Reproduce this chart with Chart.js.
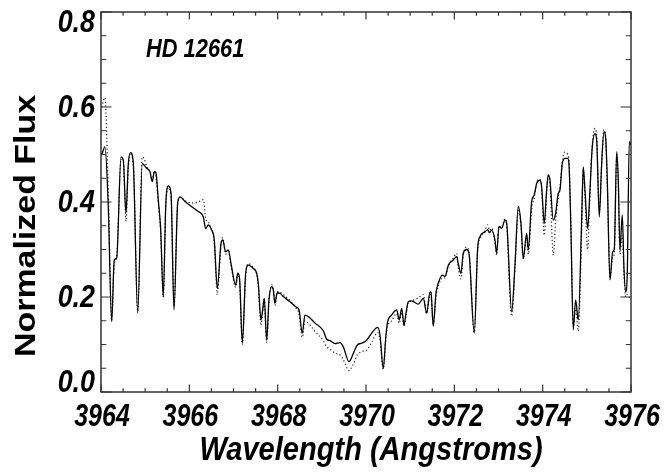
<!DOCTYPE html>
<html>
<head>
<meta charset="utf-8">
<script src="https://cdn.jsdelivr.net/npm/chart.js@4.4.1/dist/chart.umd.min.js"></script>
<style>
  html, body { margin: 0; padding: 0; background: #fff; }
  #wrap { width: 664px; height: 474px; }
</style>
</head>
<body>
<div id="wrap"><canvas id="spec" width="664" height="474"></canvas></div>
<script>
// HD 12661 spectrum around Ca II H (3964-3976 A)

const wavelength = [
  3964.016, 3964.090, 3964.165, 3964.242, 3964.300, 3964.355, 3964.453, 3964.505, 3964.566, 3964.618,
  3964.672, 3964.731, 3964.831, 3964.935, 3964.974, 3965.035, 3965.109, 3965.161, 3965.207, 3965.245,
  3965.297, 3965.352, 3965.410, 3965.465, 3965.524, 3965.585, 3965.653, 3965.736, 3965.789, 3965.900,
  3966.053, 3966.203, 3966.316, 3966.370, 3966.429, 3966.506, 3966.565, 3966.633, 3966.717, 3966.755,
  3966.823, 3966.882, 3966.943, 3967.050, 3967.095, 3967.136, 3967.200, 3967.276, 3967.335, 3967.448,
  3967.525, 3967.561, 3967.622, 3967.661, 3967.697, 3967.751, 3967.803, 3967.865, 3967.900, 3967.939,
  3967.991, 3968.052, 3968.127, 3968.279, 3968.430, 3968.483, 3968.557, 3968.618, 3968.693, 3968.845,
  3969.033, 3969.110, 3969.185, 3969.298, 3969.411, 3969.486, 3969.615, 3969.712, 3969.803, 3969.909,
  3970.015, 3970.129, 3970.264, 3970.317, 3970.391, 3970.452, 3970.491, 3970.581, 3970.695, 3970.753,
  3970.808, 3970.860, 3970.905, 3970.957, 3971.034, 3971.183, 3971.297, 3971.374, 3971.448, 3971.471,
  3971.523, 3971.584, 3971.636, 3971.727, 3971.788, 3971.863, 3971.976, 3972.053, 3972.089, 3972.150,
  3972.202, 3972.279, 3972.331, 3972.451, 3972.528, 3972.580, 3972.694, 3972.755, 3972.795, 3972.845,
  3972.920, 3972.958, 3973.011, 3973.072, 3973.146, 3973.185, 3973.298, 3973.373, 3973.448, 3973.509,
  3973.561, 3973.638, 3973.674, 3973.751, 3973.810, 3973.864, 3973.939, 3973.977, 3974.036, 3974.090,
  3974.127, 3974.165, 3974.240, 3974.294, 3974.353, 3974.391, 3974.444, 3974.505, 3974.566, 3974.595,
  3974.640, 3974.693, 3974.747, 3974.806, 3974.883, 3974.919, 3974.958, 3975.018, 3975.071, 3975.123,
  3975.184, 3975.223, 3975.282, 3975.336, 3975.388, 3975.427, 3975.463, 3975.524, 3975.585, 3975.621,
  3975.676, 3975.712, 3975.750, 3975.803, 3975.841, 3975.880, 3975.916, 3975.961, 3976.000
];

// solid line
const modelFlux = [
  0.499, 0.516, 0.390, 0.148, 0.278, 0.282, 0.495, 0.488, 0.376, 0.480,
  0.504, 0.482, 0.166, 0.481, 0.478, 0.471, 0.464, 0.443, 0.464, 0.461,
  0.404, 0.341, 0.200, 0.390, 0.434, 0.419, 0.173, 0.398, 0.411, 0.401,
  0.390, 0.380, 0.369, 0.344, 0.352, 0.341, 0.320, 0.218, 0.313, 0.320,
  0.295, 0.299, 0.271, 0.225, 0.250, 0.240, 0.103, 0.250, 0.267, 0.260,
  0.250, 0.229, 0.152, 0.173, 0.197, 0.109, 0.194, 0.222, 0.215, 0.187,
  0.209, 0.208, 0.201, 0.190, 0.178, 0.173, 0.124, 0.162, 0.159, 0.145,
  0.129, 0.111, 0.108, 0.102, 0.104, 0.095, 0.064, 0.081, 0.099, 0.103,
  0.109, 0.124, 0.136, 0.120, 0.050, 0.120, 0.148, 0.162, 0.173, 0.152,
  0.176, 0.141, 0.165, 0.190, 0.192, 0.185, 0.197, 0.166, 0.211, 0.210,
  0.139, 0.208, 0.229, 0.246, 0.243, 0.267, 0.278, 0.285, 0.270, 0.250,
  0.292, 0.300, 0.292, 0.124, 0.302, 0.327, 0.337, 0.342, 0.335, 0.341,
  0.320, 0.292, 0.348, 0.345, 0.362, 0.355, 0.169, 0.267, 0.390, 0.355,
  0.281, 0.334, 0.299, 0.401, 0.415, 0.439, 0.446, 0.432, 0.355, 0.425,
  0.457, 0.446, 0.362, 0.376, 0.418, 0.425, 0.481, 0.492, 0.492, 0.481,
  0.341, 0.131, 0.194, 0.152, 0.362, 0.474, 0.425, 0.344, 0.425, 0.516,
  0.544, 0.530, 0.369, 0.481, 0.548, 0.534, 0.446, 0.236, 0.295, 0.300,
  0.506, 0.446, 0.299, 0.373, 0.260, 0.211, 0.250, 0.527, 0.520
];

// dotted line
const observedFlux = [
  0.600, 0.620, 0.420, 0.150, 0.270, 0.285, 0.490, 0.485, 0.360, 0.470,
  0.500, 0.478, 0.170, 0.495, 0.492, 0.475, 0.462, 0.445, 0.465, 0.455,
  0.400, 0.335, 0.200, 0.385, 0.430, 0.415, 0.180, 0.395, 0.410, 0.403,
  0.398, 0.400, 0.405, 0.365, 0.358, 0.340, 0.315, 0.205, 0.310, 0.325,
  0.290, 0.300, 0.265, 0.220, 0.245, 0.235, 0.100, 0.245, 0.270, 0.262,
  0.248, 0.225, 0.140, 0.170, 0.195, 0.105, 0.190, 0.225, 0.220, 0.182,
  0.212, 0.210, 0.205, 0.192, 0.175, 0.165, 0.115, 0.150, 0.145, 0.128,
  0.108, 0.095, 0.090, 0.082, 0.078, 0.068, 0.045, 0.058, 0.078, 0.085,
  0.088, 0.105, 0.125, 0.110, 0.048, 0.115, 0.138, 0.150, 0.165, 0.145,
  0.168, 0.138, 0.160, 0.188, 0.192, 0.198, 0.205, 0.165, 0.205, 0.205,
  0.140, 0.200, 0.222, 0.240, 0.240, 0.265, 0.282, 0.292, 0.262, 0.238,
  0.288, 0.305, 0.295, 0.125, 0.300, 0.322, 0.340, 0.352, 0.340, 0.345,
  0.315, 0.288, 0.350, 0.345, 0.365, 0.352, 0.160, 0.262, 0.385, 0.350,
  0.280, 0.330, 0.290, 0.385, 0.410, 0.440, 0.448, 0.428, 0.330, 0.420,
  0.455, 0.440, 0.288, 0.360, 0.410, 0.430, 0.485, 0.505, 0.500, 0.485,
  0.350, 0.140, 0.175, 0.128, 0.340, 0.470, 0.410, 0.300, 0.420, 0.520,
  0.555, 0.540, 0.380, 0.480, 0.552, 0.535, 0.440, 0.240, 0.285, 0.290,
  0.500, 0.440, 0.290, 0.330, 0.250, 0.200, 0.205, 0.200, 0.200
];

const xMajorTicks = [3964, 3966, 3968, 3970, 3972, 3974, 3976];
const yMajorTicks = [0.0, 0.2, 0.4, 0.6, 0.8];
const starName = 'HD 12661';

const FONT = "'Liberation Sans', Arial, sans-serif";

function toPoints(xs, ys) {
    return xs.map((x, i) => ({ x, y: ys[i] }));
}

// text squeezed horizontally around its anchor (IDL uses a narrow face)
function drawText(ctx, text, x, y, sx) {
    ctx.save();
    ctx.translate(x, y);
    ctx.scale(sx, 1);
    ctx.fillText(text, 0, 0);
    ctx.restore();
}

// IDL-style box: inward ticks on every side, labels drawn by hand
const idlAxes = {
    id: 'idlAxes',
    afterDraw(chart) {
        const { ctx, chartArea: a, scales } = chart;
        const sx = scales.x, sy = scales.y;
        const xLen = (a.bottom - a.top) * 0.02;
        const yLen = (a.right - a.left) * 0.02;
        ctx.save();
        ctx.strokeStyle = '#333';
        ctx.lineWidth = 1.5;
        ctx.strokeRect(a.left, a.top, a.right - a.left, a.bottom - a.top);

        ctx.lineWidth = 1.2;
        ctx.beginPath();
        for (let v = sx.min; v <= sx.max + 1e-6; v += 0.5) {
            const px = sx.getPixelForValue(v);
            const len = Math.abs((v - sx.min) % 2) < 1e-6 ? xLen : xLen / 2;
            ctx.moveTo(px, a.bottom); ctx.lineTo(px, a.bottom - len);
            ctx.moveTo(px, a.top); ctx.lineTo(px, a.top + len);
        }
        for (let v = sy.min; v <= sy.max + 1e-6; v += 0.05) {
            const py = sy.getPixelForValue(v);
            const major = Math.abs(Math.round(v * 20) % 4) === 0;
            const len = major ? yLen : yLen / 2;
            ctx.moveTo(a.left, py); ctx.lineTo(a.left + len, py);
            ctx.moveTo(a.right, py); ctx.lineTo(a.right - len, py);
        }
        ctx.stroke();

        ctx.fillStyle = '#000';
        ctx.font = 'italic bold 32px ' + FONT;
        ctx.textAlign = 'center';
        ctx.textBaseline = 'top';
        xMajorTicks.forEach(t => {
            drawText(ctx, String(t), sx.getPixelForValue(t) + 1, a.bottom + 9, 0.78);
        });

        ctx.textAlign = 'right';
        ctx.textBaseline = 'middle';
        yMajorTicks.forEach(t => {
            let py = sy.getPixelForValue(t);
            py = Math.min(Math.max(py, a.top + 10), a.bottom - 10);
            drawText(ctx, t.toFixed(1), a.left - 6, py + 1, 0.84);
        });

        ctx.textAlign = 'center';
        ctx.textBaseline = 'middle';
        ctx.font = 'italic bold 33px ' + FONT;
        drawText(ctx, 'Wavelength (Angstroms)', (a.left + a.right) / 2 + 5, 451, 0.88);

        ctx.save();
        ctx.translate(27, 226);
        ctx.rotate(-Math.PI / 2);
        ctx.font = 'bold 29px ' + FONT;
        drawText(ctx, 'Normalized Flux', 0, 0, 1.17);
        ctx.restore();

        ctx.font = 'italic bold 26px ' + FONT;
        ctx.textAlign = 'left';
        drawText(ctx, starName, 146, 50, 0.84);
        ctx.restore();
    }
};

new Chart(document.getElementById('spec'), {
    type: 'line',
    data: {
        datasets: [
            {
                label: 'model',
                data: toPoints(wavelength, modelFlux),
                borderColor: '#000',
                borderWidth: 1.3,
                pointRadius: 0,
                cubicInterpolationMode: 'monotone'
            },
            {
                label: 'observed',
                data: toPoints(wavelength, observedFlux),
                borderColor: '#222',
                borderWidth: 1.2,
                borderDash: [1.2, 2.4],
                pointRadius: 0,
                cubicInterpolationMode: 'monotone'
            }
        ]
    },
    options: {
        responsive: false,
        animation: false,
        layout: { padding: { left: 101, right: 33, top: 12, bottom: 82 } },
        scales: {
            x: { type: 'linear', min: 3964, max: 3976, display: false },
            y: { type: 'linear', min: 0, max: 0.8, display: false }
        },
        plugins: {
            legend: { display: false },
            tooltip: { enabled: false }
        }
    },
    plugins: [idlAxes]
});
</script>
</body>
</html>
